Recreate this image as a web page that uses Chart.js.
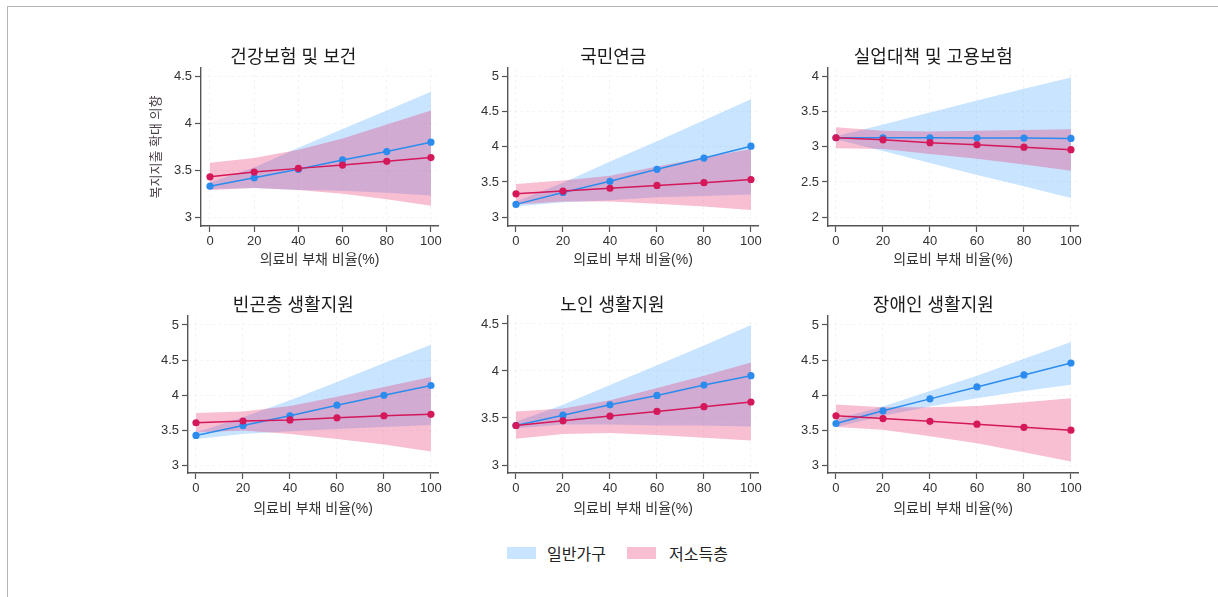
<!DOCTYPE html>
<html>
<head>
<meta charset="utf-8">
<script src="https://cdn.jsdelivr.net/npm/chart.js@4.4.1/dist/chart.umd.min.js"></script>
<style>
  html, body { margin: 0; padding: 0; background: #fff; }
  body { width: 1218px; height: 597px; position: relative; overflow: hidden;
         font-family: 'Liberation Sans', 'Noto Sans CJK KR', sans-serif; }
  #frame { position: absolute; left: 7px; top: 6px; width: 1220px; height: 600px;
           border: 1.5px solid #b5b5b5; box-sizing: border-box; }
  canvas.panel { position: absolute; }
  .key { position: absolute; top: 547px; height: 12px; width: 29px; }
  .keytext { position: absolute; top: 543px; font-size: 16px; line-height: 20px; color: #222;
             font-family: 'Noto Sans CJK KR', sans-serif; }
</style>
</head>
<body>
<div id="frame"></div>

<div class="key" style="left:507px;background:rgba(30,144,255,0.24);"></div>
<div class="keytext" style="left:547px;">일반가구</div>
<div class="key" style="left:627px;background:rgba(230,30,100,0.29);"></div>
<div class="keytext" style="left:669px;">저소득층</div>

<script>
// Predicted welfare-expansion preference by medical-debt share, two household groups
const panelTitles = ['건강보험 및 보건', '국민연금', '실업대책 및 고용보험',
                     '빈곤층 생활지원', '노인 생활지원', '장애인 생활지원'];
const debtShare = [0, 20, 40, 60, 80, 100];
const xTickValues = [0, 20, 40, 60, 80, 100];
const yTickValues = [
  [3, 3.5, 4, 4.5],
  [3, 3.5, 4, 4.5, 5],
  [2, 2.5, 3, 3.5, 4],
  [3, 3.5, 4, 4.5, 5],
  [3, 3.5, 4, 4.5],
  [3, 3.5, 4, 4.5, 5]
];
const xAxisTitle = '의료비 부채 비율(%)';
const yAxisTitle = '복지지출 확대 의향';
const seriesNames = ['일반가구', '저소득층'];

// 일반가구: estimate, lower / upper bound
const generalEst = [
  [3.33, 3.42, 3.51, 3.61, 3.70, 3.80],
  [3.18, 3.35, 3.51, 3.68, 3.84, 4.01],
  [3.13, 3.13, 3.13, 3.125, 3.125, 3.12],
  [3.43, 3.57, 3.71, 3.86, 4.00, 4.14],
  [3.42, 3.53, 3.64, 3.74, 3.85, 3.95],
  [3.60, 3.78, 3.95, 4.12, 4.29, 4.46]
];
const generalLo = [
  [3.30, 3.31, 3.29, 3.28, 3.26, 3.23],
  [3.15, 3.21, 3.24, 3.28, 3.30, 3.32],
  [3.11, 2.94, 2.77, 2.60, 2.44, 2.27],
  [3.38, 3.45, 3.49, 3.52, 3.55, 3.58],
  [3.39, 3.43, 3.43, 3.42, 3.42, 3.41],
  [3.55, 3.71, 3.84, 3.96, 4.06, 4.15]
];
const generalHi = [
  [3.37, 3.53, 3.74, 3.94, 4.14, 4.34],
  [3.22, 3.49, 3.79, 4.08, 4.38, 4.68],
  [3.15, 3.32, 3.49, 3.66, 3.83, 3.99],
  [3.47, 3.69, 3.93, 4.19, 4.46, 4.72],
  [3.46, 3.64, 3.85, 4.06, 4.27, 4.49],
  [3.66, 3.84, 4.06, 4.28, 4.52, 4.76]
];

// 저소득층: estimate, lower / upper bound
const lowEst = [
  [3.43, 3.48, 3.52, 3.555, 3.595, 3.635],
  [3.33, 3.37, 3.41, 3.45, 3.49, 3.535],
  [3.13, 3.10, 3.06, 3.03, 2.995, 2.96],
  [3.61, 3.635, 3.65, 3.68, 3.71, 3.73],
  [3.42, 3.47, 3.52, 3.57, 3.62, 3.67],
  [3.71, 3.67, 3.63, 3.59, 3.545, 3.505]
];
const lowLo = [
  [3.29, 3.31, 3.29, 3.25, 3.19, 3.12],
  [3.18, 3.22, 3.22, 3.19, 3.15, 3.10],
  [2.98, 2.97, 2.90, 2.83, 2.75, 2.66],
  [3.47, 3.50, 3.45, 3.38, 3.30, 3.20],
  [3.28, 3.33, 3.34, 3.32, 3.29, 3.26],
  [3.55, 3.51, 3.42, 3.32, 3.19, 3.06]
];
const lowHi = [
  [3.58, 3.63, 3.72, 3.84, 3.99, 4.14],
  [3.47, 3.52, 3.59, 3.72, 3.85, 3.97],
  [3.28, 3.23, 3.22, 3.23, 3.24, 3.25],
  [3.75, 3.77, 3.85, 3.98, 4.12, 4.26],
  [3.57, 3.60, 3.69, 3.82, 3.95, 4.09],
  [3.87, 3.83, 3.83, 3.85, 3.90, 3.96]
];

// Colours
const blueLine = '#2b8cee';
const redLine = '#d4185a';
const blueBand = 'rgba(30,144,255,0.24)';
const redBand = 'rgba(230,30,100,0.29)';
const axisColor = '#555555';
const gridColor = 'rgba(0,0,0,0.045)';
const FONT = "'Liberation Sans', 'Noto Sans CJK KR', sans-serif";

// Panel placement on the page: canvas box, plot area, title centre, axis extents
const layouts = [
  { cl: 130, cr: 456, ct: 40, cb: 275, L: 201, R: 438, T: 68, B: 226, tx: 293.3, ty: 58.3, xty: 260,
    xmin: -4.07, xmax: 103.2, ymin: 2.904, ymax: 4.593, yTitle: true },
  { cl: 455, cr: 775, ct: 40, cb: 275, L: 508, R: 758, T: 68, B: 226, tx: 613.3, ty: 58.3, xty: 260,
    xmin: -3.4, xmax: 103, ymin: 2.872, ymax: 5.124 },
  { cl: 775, cr: 1095, ct: 40, cb: 275, L: 828, R: 1078, T: 68, B: 226, tx: 933.3, ty: 58.3, xty: 260,
    xmin: -3.4, xmax: 103, ymin: 1.872, ymax: 4.124 },
  { cl: 135, cr: 455, ct: 288, cb: 525, L: 188, R: 438, T: 315.5, B: 473, tx: 293.3, ty: 306.5, xty: 509.3,
    xmin: -3.4, xmax: 103, ymin: 2.896, ymax: 5.135 },
  { cl: 455, cr: 775, ct: 288, cb: 525, L: 508, R: 758, T: 315.5, B: 473, tx: 612.5, ty: 306.5, xty: 509.3,
    xmin: -3.4, xmax: 103, ymin: 2.915, ymax: 4.59 },
  { cl: 775, cr: 1095, ct: 288, cb: 525, L: 828, R: 1078, T: 315.5, B: 473, tx: 933.3, ty: 306.5, xty: 509.3,
    xmin: -3.4, xmax: 103, ymin: 2.896, ymax: 5.135 }
];

const pts = arr => debtShare.map((x, i) => ({ x: x, y: arr[i] }));

function bandSets(hi, lo, color, order, label) {
  return [
    { label: label + ' hi', data: pts(hi), fill: '+1', backgroundColor: color,
      borderWidth: 0, borderColor: 'rgba(0,0,0,0)', pointRadius: 0, order: order },
    { label: label + ' lo', data: pts(lo), fill: false,
      borderWidth: 0, borderColor: 'rgba(0,0,0,0)', pointRadius: 0, order: order }
  ];
}

function lineSet(est, color, order, label) {
  return { label: label, data: pts(est), fill: false, borderColor: color, borderWidth: 1.5,
           backgroundColor: color, pointBackgroundColor: color, pointBorderWidth: 0,
           pointRadius: 3.6, tension: 0, order: order };
}

layouts.forEach((g, k) => {
  const canvas = document.createElement('canvas');
  canvas.className = 'panel';
  const W = g.cr - g.cl, H = g.cb - g.ct;
  canvas.width = W; canvas.height = H;
  canvas.style.left = g.cl + 'px'; canvas.style.top = g.ct + 'px';
  canvas.style.width = W + 'px'; canvas.style.height = H + 'px';
  document.body.appendChild(canvas);

  const padL = 2 * g.tx - g.R - g.cl;       // centres the title at tx
  const padR = g.cr - g.R;
  const yW = g.L - g.cl - padL;
  const xH = g.cb - g.B;
  const titleSize = 18;
  const tPadTop = g.ty - g.ct - titleSize / 2;
  const tPadBot = Math.max(0, g.T - g.ty - titleSize / 2);
  const xTitleSize = 14;
  const xTitlePadBot = g.cb - g.xty - xTitleSize * 1.2 / 2;

  new Chart(canvas, {
    type: 'line',
    data: {
      datasets: [
        ...bandSets(generalHi[k], generalLo[k], blueBand, 3, seriesNames[0]),
        ...bandSets(lowHi[k], lowLo[k], redBand, 2, seriesNames[1]),
        lineSet(generalEst[k], blueLine, 1, seriesNames[0]),
        lineSet(lowEst[k], redLine, 0, seriesNames[1])
      ]
    },
    options: {
      responsive: false,
      animation: false,
      events: [],
      layout: { padding: { left: padL, right: padR, top: 0, bottom: 0 } },
      plugins: {
        legend: { display: false },
        tooltip: { enabled: false },
        title: {
          display: true, text: panelTitles[k], color: '#1a1a1a',
          font: { family: FONT, size: titleSize, weight: 'normal', lineHeight: 1 },
          padding: { top: tPadTop, bottom: tPadBot }
        }
      },
      scales: {
        x: {
          type: 'linear', min: g.xmin, max: g.xmax,
          afterBuildTicks: s => { s.ticks = xTickValues.map(v => ({ value: v })); },
          afterFit: s => { s.height = xH; s.paddingLeft = 0; s.paddingRight = 0; s.paddingTop = 0; s.paddingBottom = 0; },
          ticks: { color: '#333', font: { family: FONT, size: 13 }, padding: 2, maxRotation: 0,
                   callback: v => String(v) },
          grid: { color: gridColor, tickColor: axisColor, tickLength: 6, tickWidth: 1.2 },
          border: { display: true, color: axisColor, width: 1.4, dash: [3, 3] },
          title: { display: true, text: xAxisTitle, color: '#333',
                   font: { family: FONT, size: xTitleSize }, padding: { top: 0, bottom: xTitlePadBot } }
        },
        y: {
          type: 'linear', min: g.ymin, max: g.ymax,
          afterBuildTicks: s => { s.ticks = yTickValues[k].map(v => ({ value: v })); },
          afterFit: s => { s.width = yW; s.paddingLeft = 0; s.paddingRight = 0; s.paddingTop = 0; s.paddingBottom = 0; },
          ticks: { color: '#333', font: { family: FONT, size: 13 }, padding: 3,
                   callback: v => String(v) },
          grid: { color: gridColor, tickColor: axisColor, tickLength: 6, tickWidth: 1.2 },
          border: { display: true, color: axisColor, width: 1.4, dash: [3, 3] },
          title: { display: !!g.yTitle, text: yAxisTitle, color: '#4a4048',
                   font: { family: FONT, size: 13 }, padding: { top: 0, bottom: 0 } }
        }
      }
    }
  });
});
</script>
</body>
</html>
